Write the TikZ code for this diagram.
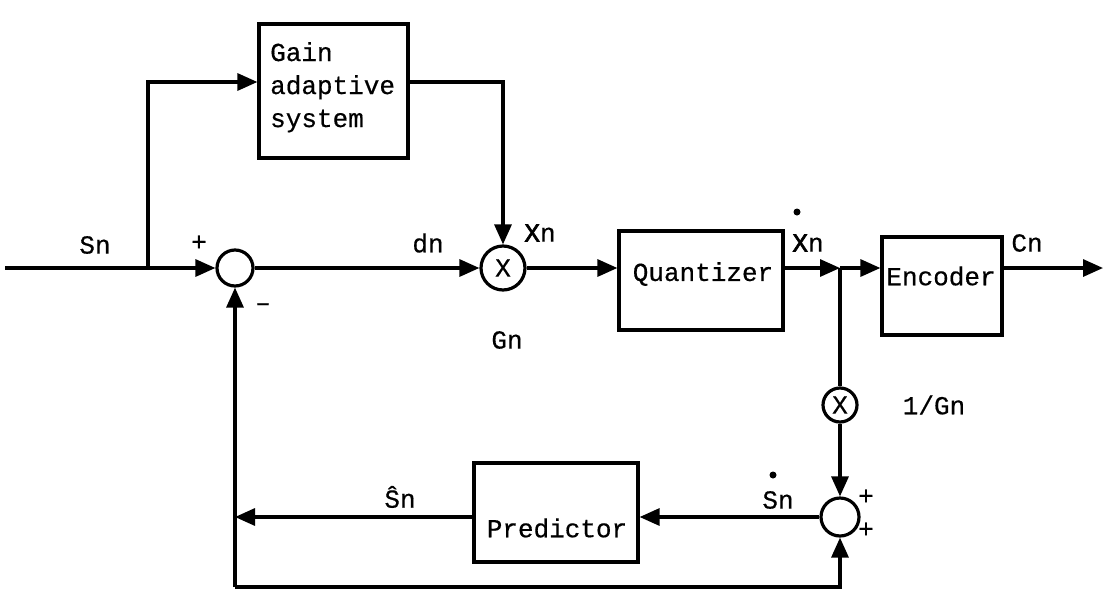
\documentclass[tikz,border=0pt]{standalone}
\usepackage{fontspec}
\newfontfamily\cour{Liberation Mono}[FakeBold=0.5]
\newfontfamily\courb{Liberation Mono}[FakeBold=2.5]
\usetikzlibrary{arrows.meta}
\begin{document}
\begin{tikzpicture}[x=1pt,y=-1pt,
  every node/.style={font=\cour\fontsize{26}{33}\selectfont},
  ln/.style={line width=3.2pt},
  arr/.style={ln,-{Triangle[length=20pt,width=17pt]}},
  blk/.style={draw,line width=3.2pt,rectangle,inner sep=0},
  junc/.style={draw,circle,line width=3.2pt,inner sep=0},
  lbl/.style={inner sep=0},
  dotm/.style={fill,circle,inner sep=0,minimum size=7pt}]
\useasboundingbox (0,0) rectangle (1105,592);
% blocks
\node[blk,minimum width=149pt,minimum height=134pt] (gain) at (333.5,91) {};
\node[lbl,anchor=north west,align=left] (gaintxt) at (270,42) {Gain\\adaptive\\system};
\node[blk,minimum width=164pt,minimum height=99pt] (quant) at (701,280.5) {};
\node[lbl] (quanttxt) at (703,274) {Quantizer};
\node[blk,minimum width=120pt,minimum height=98pt] (enc) at (942,286) {};
\node[lbl] (enctxt) at (941,276) {Encoder};
\node[blk,minimum width=164pt,minimum height=99pt] (pred) at (556,512.5) {};
\node[lbl] (predtxt) at (557,528) {Predictor};
% junctions
\node[junc,minimum size=36pt] (sum1) at (235,268) {};
\node[junc,minimum size=44pt] (mul1) at (503,268) {X};
\node[junc,minimum size=34pt] (mul2) at (840,405) {X};
\node[junc,minimum size=38pt] (add2) at (840,517) {};
% coordinates
\coordinate (in) at (5,268);
\coordinate (br1) at (148,268);
\coordinate (br2) at (840,268);
\coordinate (out) at (1103,268);
\coordinate (fb) at (235,517);
\coordinate (bl) at (235,587);
% connectors
\draw[ln] (in) -- (br1);
\draw[arr] (br1) -- (sum1.west);
\draw[arr] (br1) |- (gain.west |- 0,82);
\draw[arr] (gain.east |- 0,82) -| (mul1.north);
\draw[arr] (sum1.east) -- (mul1.west);
\draw[arr] (mul1.east) -- (mul1.east -| quant.west);
\draw[arr] (br2 -| quant.east) -- (br2);
\draw[arr] (br2) -- (br2 -| enc.west);
\draw[arr] (br2 -| enc.east) -- (out);
\draw[ln] (br2) -- (mul2.north);
\draw[arr] (mul2.south) -- (add2.north);
\draw[arr] (add2.west) -- (add2.west -| pred.east);
\draw[arr] (add2.west -| pred.west) -- (fb);
\draw[arr] (bl) -- (sum1.south);
\draw[arr] (bl) -| (add2.south);
% labels
\node[lbl] (lsn) at (95,245) {Sn};
\node[lbl] (lplus1) at (199,243) {+};
\node[lbl] (lminus1) at (263,307) {–};
\node[lbl] (ldn) at (428,243) {dn};
\node[lbl] (lxn) at (540,233) {{\courb X}n};
\node[lbl] (lgn) at (507,340) {Gn};
\node[lbl] (lxq) at (808,243) {{\courb X}n};
\node[dotm] (dxq) at (797,212) {};
\node[lbl] (lcn) at (1027,243) {Cn};
\node[lbl] (lig) at (934,405) {1/Gn};
\node[lbl] (lsd) at (778,500) {Sn};
\node[dotm] (dsd) at (773,475) {};
\node[lbl] (lp2) at (866,497) {+};
\node[lbl] (lp3) at (866,530) {+};
\node[lbl] (lsh) at (400,497) {Ŝn};
\end{tikzpicture}
\end{document}
